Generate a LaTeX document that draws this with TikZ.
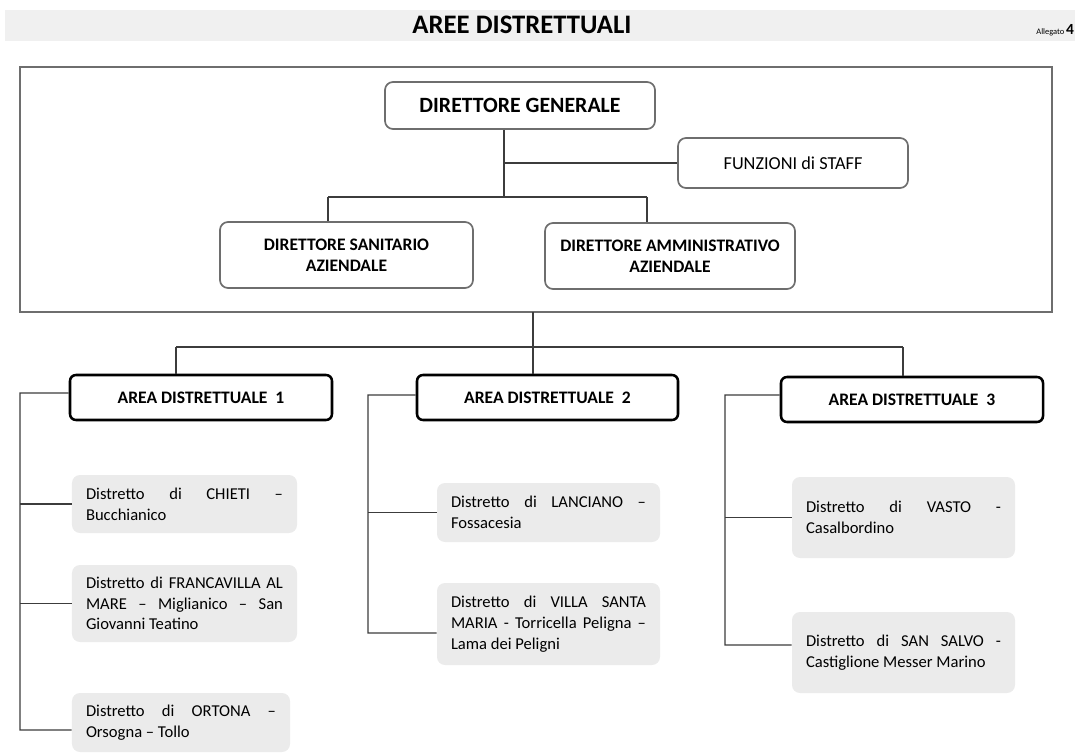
\documentclass[tikz,border=0pt]{standalone}
\usepackage{fontspec}
\setmainfont{Carlito}
\usetikzlibrary{positioning}

\definecolor{linegray}{HTML}{3C3C3C}
\definecolor{framegray}{HTML}{6E6E6E}
\definecolor{boxfill}{HTML}{EBEBEB}
\definecolor{bandfill}{HTML}{F0F0F0}

\tikzset{
  wh/.style 2 args={minimum width=#1*0.025cm, minimum height=#2*0.025cm},
  topbox/.style={draw=framegray, line width=1.2pt, rounded corners=0.2cm,
    fill=white, align=center, inner sep=0pt, font=\fontsize{12.5}{15}\selectfont\bfseries},
  areabox/.style={draw=black, line width=1.8pt, rounded corners=0.15cm,
    fill=white, align=center, inner sep=0pt, font=\fontsize{12.5}{15}\selectfont\bfseries},
  distbox/.style={fill=boxfill, rounded corners=0.2cm, align=justify,
    inner xsep=0.35cm, inner ysep=0pt, text width=#1*0.025cm,
    font=\fontsize{11.8}{14.7}\selectfont},
  link/.style={draw=linegray, line width=0.9pt}
}

\begin{document}
\begin{tikzpicture}[x=0.025cm, y=-0.025cm]
\useasboundingbox (0,0) rectangle (1082,754);

% Title band
\fill[bandfill] (5,10) rectangle (1075,41);
\node[font=\fontsize{19}{22}\selectfont\bfseries] (title) at (522,25) {AREE DISTRETTUALI};
\node[anchor=base east] (alleg) at (1079,35) {\fontsize{6}{7}\selectfont Allegato \fontsize{11}{12}\selectfont\bfseries 4};

% Direzione
\draw[framegray, line width=1.9pt] (20,67) rectangle (1052,312);
\node[topbox, wh={270}{47}, font=\fontsize{15.5}{18}\selectfont\bfseries] (dg) at (520,105.5) {DIRETTORE GENERALE};
\node[topbox, wh={230}{50}, font=\fontsize{13}{15}\selectfont] (staff) at (793,163) {FUNZIONI di STAFF};
\node[topbox, wh={253}{66}] (ds) at (346.5,255) {DIRETTORE SANITARIO\\AZIENDALE};
\node[topbox, wh={250}{66}] (da) at (670,256) {DIRETTORE AMMINISTRATIVO\\AZIENDALE};

\coordinate (s) at (504,197);
\coordinate (l) at (328,197);
\coordinate (r) at (647,197);
\draw[link] (s |- dg.south) -- (s);
\draw[link] (s |- staff.west) -- (staff.west);
\draw[link] (l) -- (r);
\draw[link] (l) -- (l |- ds.north);
\draw[link] (r) -- (r |- da.north);

% Aree distrettuali
\node[areabox, wh={262}{45}] (a1) at (201,397.5) {AREA DISTRETTUALE~~1};
\node[areabox, wh={261}{45}] (a2) at (547.5,397.5) {AREA DISTRETTUALE~~2};
\node[areabox, wh={262}{45}] (a3) at (912,399.5) {AREA DISTRETTUALE~~3};

\coordinate (fb) at (533,312);
\coordinate (h1) at (176,347);
\coordinate (h3) at (903,347);
\draw[link] (h1) -- (h3);
\draw[link] (fb) -- (fb |- a2.north);
\draw[link] (h1) -- (h1 |- a1.north);
\draw[link] (h3) -- (h3 |- a3.north);

% Distretti
\node[distbox=197, wh={225}{58}] (d11) at (184.5,504) {Distretto di CHIETI –\linebreak Bucchianico};
\node[distbox=197, wh={225}{77}] (d12) at (184.5,603.5) {Distretto di FRANCAVILLA AL\linebreak MARE – Miglianico – San\linebreak Giovanni Teatino};
\node[distbox=190, wh={218}{59}] (d13) at (181,722.5) {Distretto di ORTONA –\linebreak Orsogna – Tollo};

\node[distbox=195, wh={223}{59}] (d21) at (548.5,512.5) {Distretto di LANCIANO –\linebreak Fossacesia};
\node[distbox=195, wh={223}{82}] (d22) at (548.5,624) {Distretto di VILLA SANTA\linebreak MARIA - Torricella Peligna –\linebreak Lama dei Peligni};

\node[distbox=195, wh={223}{81}] (d31) at (903.5,517.5) {Distretto di VASTO -\linebreak Casalbordino};
\node[distbox=195, wh={223}{81}] (d32) at (903.5,652.5) {Distretto di SAN SALVO -\linebreak Castiglione Messer Marino};

% Collegamenti
\coordinate (b1) at (20,393);
\coordinate (b2) at (368,395);
\coordinate (b3) at (725,395);
\draw[link] (a1.west |- b1) -- (b1) -- (b1 |- 0,730) -- ([yshift=-5.3pt]d13.west);
\draw[link] (b1 |- d11.west) -- (d11.west);
\draw[link] (b1 |- d12.west) -- (d12.west);
\draw[link] (a2.west |- b2) -- (b2) -- (b2 |- 0,633) -- ([yshift=-6.4pt]d22.west);
\draw[link] (b2 |- d21.west) -- (d21.west);
\draw[link] (a3.west |- b3) -- (b3) -- (b3 |- 0,645) -- ([yshift=5.3pt]d32.west);
\draw[link] (b3 |- d31.west) -- (d31.west);
\end{tikzpicture}
\end{document}
